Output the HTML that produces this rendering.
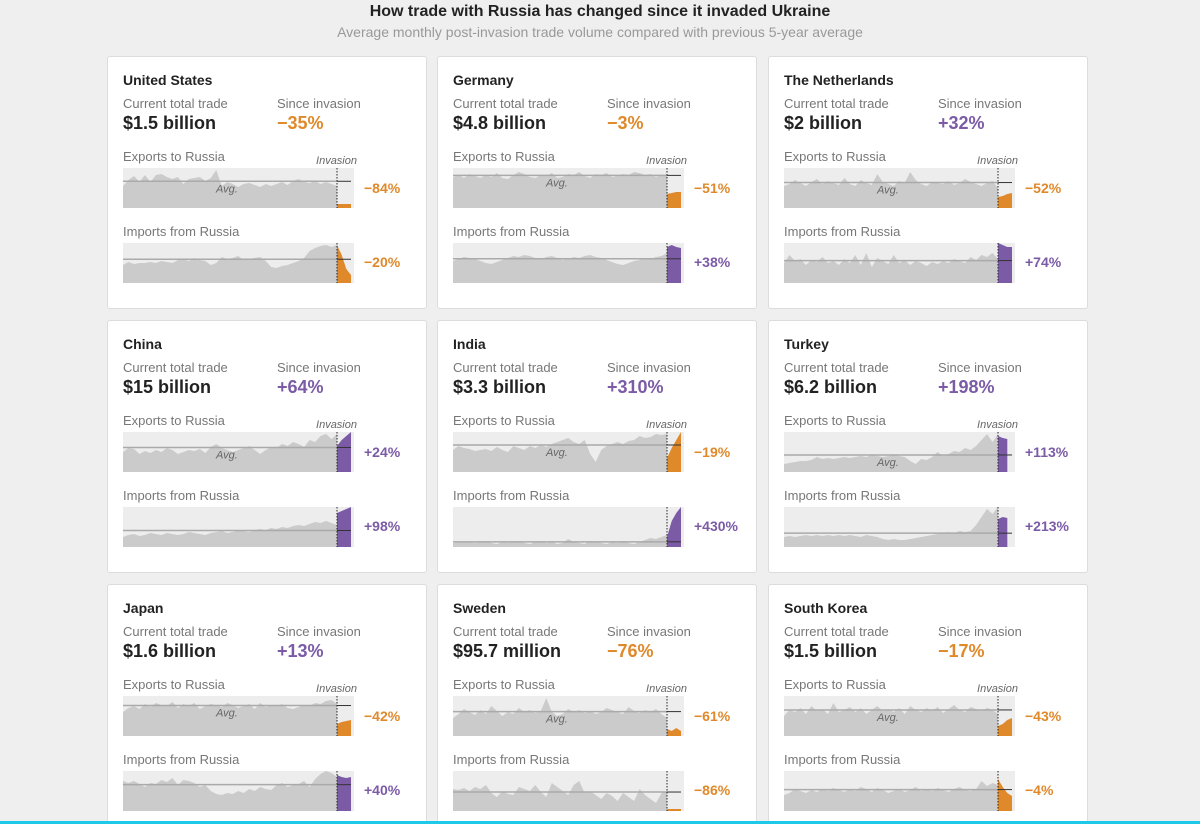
<!DOCTYPE html>
<html style="overflow:hidden;height:824px"><head><meta charset="utf-8">
<style>
body{margin:0;width:1200px;height:824px;background:#efefef;font-family:"Liberation Sans",sans-serif;position:relative;overflow:hidden}
.h{position:absolute;left:0;width:1200px;text-align:center}
.card{position:absolute;width:318px;height:251px;background:#fff;border:1px solid #dcdcdc;border-radius:3px}
.t{position:absolute;white-space:nowrap}
.title{left:15px;top:15px;font-size:14px;font-weight:bold;color:#222}
.lab{font-size:13px;color:#777}
.big{font-size:18px;font-weight:bold;color:#222}
.pct{font-size:14px;font-weight:bold}
svg.sp{position:absolute;left:15px;overflow:visible}
</style></head><body>
<div class="h" style="top:3px;font-size:16px;font-weight:bold;color:#222">How trade with Russia has changed since it invaded Ukraine</div>
<div class="h" style="top:24px;font-size:14px;color:#999">Average monthly post-invasion trade volume compared with previous 5-year average</div>
<div style="position:absolute;left:0;top:821px;width:1200px;height:3px;background:#1ec8e8;z-index:10"></div>
<script>
const countries=["United States","Germany","The Netherlands","China","India","Turkey","Japan","Sweden","South Korea"];
const totals=["$1.5 billion","$4.8 billion","$2 billion","$15 billion","$3.3 billion","$6.2 billion","$1.6 billion","$95.7 million","$1.5 billion"];
const sinceInv=["−35%","−3%","+32%","+64%","+310%","+198%","+13%","−76%","−17%"];
const expPct=["−84%","−51%","−52%","+24%","−19%","+113%","−42%","−61%","−43%"];
const impPct=["−20%","+38%","+74%","+98%","+430%","+213%","+40%","−86%","−4%"];
const expPre=[
[22,28,32,26,33,26,33,34,31,29,31,24,29,30,31,27,30,38,22,26,24,21,24,25,23,21,24,22,24,26,23,27,29,26,25,27,24,26,24,22],
[31,33,30,34,32,30,33,31,35,30,29,33,36,34,31,30,33,32,35,30,31,34,33,36,32,30,34,33,35,31,32,34,33,36,35,33,34,31,33,32],
[22,24,28,25,22,26,29,24,27,25,23,30,24,22,28,25,23,34,26,24,22,27,25,36,28,24,22,26,25,24,27,23,25,29,26,24,22,25,27,20],
[20,24,23,18,21,19,22,20,24,22,18,20,22,21,23,19,25,28,24,22,20,22,24,26,22,18,22,25,24,28,26,30,28,25,32,30,36,38,33,38],
[22,26,24,23,21,22,23,21,25,22,20,26,24,22,26,24,27,25,28,30,32,34,30,28,32,18,10,22,26,28,30,28,31,32,36,34,35,38,37,38],
[8,9,10,11,11,12,15,13,14,13,14,15,14,15,16,15,17,16,15,16,17,16,15,11,8,13,12,15,20,16,18,21,20,24,22,26,32,38,30,38],
[24,28,30,27,32,29,33,31,30,34,28,32,30,33,27,30,32,31,29,33,31,28,30,32,27,33,29,31,30,32,28,27,29,31,30,33,32,35,36,32],
[18,22,27,24,21,26,22,30,25,20,24,22,28,24,26,23,25,38,24,20,22,27,24,26,23,25,22,24,28,26,24,22,29,25,23,26,24,27,22,18],
[20,26,24,28,22,30,25,27,22,33,24,26,29,24,28,22,26,30,25,27,24,28,22,30,26,24,28,25,29,23,27,31,26,24,29,27,25,28,26,22]];
const expPost=[[4,4,4,4],[14,15,16,16],[11,12,14,15],[26,32,36,40],[14,24,32,40],[36,34,33],[12,14,15,16],[7,5,8,5],[10,12,16,18]];
const impPre=[
[18,21,19,20,20,21,20,22,21,20,23,24,22,25,23,22,18,20,26,24,25,27,23,24,25,26,22,16,15,17,18,20,22,25,32,35,37,38,36,38],
[22,24,26,25,24,22,20,19,21,23,25,27,26,28,27,25,24,26,27,25,23,24,26,25,27,28,26,25,23,21,19,18,20,22,23,25,24,26,27,30],
[20,28,22,24,18,23,21,26,20,22,18,24,20,28,18,30,16,25,22,19,28,20,23,18,22,20,17,21,19,22,20,24,22,20,26,23,28,26,30,24],
[10,12,13,11,12,14,13,12,14,13,12,13,15,14,13,12,14,15,16,14,15,17,16,15,17,18,17,19,18,20,19,21,22,21,23,25,24,26,24,22],
[4,5,6,5,4,5,6,4,3,5,4,6,5,4,3,5,6,4,5,3,4,8,5,4,3,6,5,4,3,5,4,6,4,3,5,7,9,8,10,12],
[10,11,10,11,12,11,12,11,12,11,12,11,12,11,10,12,11,10,8,7,8,7,7,8,9,10,11,12,13,14,15,14,16,15,16,22,30,38,33,40],
[30,28,30,27,24,28,27,31,29,33,26,31,30,28,24,26,20,17,16,18,17,20,18,22,20,24,22,21,26,28,24,26,27,30,24,32,37,40,38,34],
[22,21,23,20,24,22,26,18,14,20,17,16,24,22,20,26,19,14,28,24,20,16,26,30,18,20,16,12,18,15,10,18,14,10,22,16,12,8,18,20],
[16,18,22,20,18,21,19,22,20,23,21,19,22,20,24,22,19,23,21,18,20,22,19,21,24,20,22,20,23,21,19,22,24,21,20,22,30,25,28,26]];
const impPost=[[38,28,14,8],[36,38,36,35],[40,38,36,36],[34,36,38,40],[10,26,34,40],[28,30,29],[36,34,33,34],[2,2,2,2],[32,24,18,15]];

const W=231,H=40,INV=214,DOMAIN=40,STEP=4.67;
function xPre(i,n){return i*INV/(n-1);}
function xPost(i){return INV+i*STEP;}
function yS(v){return H-v/DOMAIN*H;}
const NS="http://www.w3.org/2000/svg";
function mk(tag,attrs){const e=document.createElementNS(NS,tag);for(const k in attrs)e.setAttribute(k,attrs[k]);return e;}
function spark(card,top,pre,post,up,avgLab,invLab){
  const s=mk("svg",{width:W,height:H,class:"sp"});
  s.style.top=top+"px";
  
  
  s.appendChild(mk("rect",{x:0,y:0,width:W,height:H,fill:"#ededed"}));
  let d="M0,"+H;pre.forEach((v,i)=>{d+=" L"+xPre(i,pre.length).toFixed(1)+","+yS(v).toFixed(1);});d+=" L"+INV+","+H+"Z";
  const a=mk("path",{d:d,fill:"#cbcbcb"});
  
  
  s.appendChild(a);
  const avg=pre.reduce((p,c)=>p+c,0)/pre.length;
  s.appendChild(mk("line",{x1:0,x2:INV,y1:yS(avg),y2:yS(avg),stroke:"#aaa","stroke-width":1.5}));
  const col=up?"#7b5ba6":"#e0892b";
  let d2="M"+INV+","+H;post.forEach((v,i)=>{d2+=" L"+xPost(i).toFixed(1)+","+yS(v).toFixed(1);});d2+=" L"+xPost(post.length-1)+","+H+"Z";
  const b=mk("path",{d:d2,fill:col});
  
  
  s.appendChild(b);
  s.appendChild(mk("line",{x1:INV,x2:INV+14,y1:yS(avg),y2:yS(avg),stroke:"#333","stroke-width":1}));
  s.appendChild(mk("line",{x1:INV,x2:INV,y1:0,y2:H,stroke:"#222","stroke-width":1,"stroke-dasharray":"1.5,1.5"}));
  if(avgLab){const t=mk("text",{x:93,y:yS(avg)+(avg>15?11:-4),"font-size":11,"font-style":"italic",fill:"#666","font-family":"Liberation Sans, sans-serif"});t.textContent="Avg.";
  s.appendChild(t);}
  if(invLab){const t=mk("text",{x:234,y:-4,"text-anchor":"end","font-size":11,"font-style":"italic",fill:"#666","font-family":"Liberation Sans, sans-serif"});t.textContent="Invasion";
  s.appendChild(t);}
  card.appendChild(s);
}
function txt(card,cls,l,t,str,name,color){const e=document.createElement("div");e.className="t "+cls;e.style.left=l+"px";e.style.top=t+"px";if(color)e.style.color=color;e.textContent=str;
  
  
  card.appendChild(e);}
const lefts=[107,437,768],tops=[56,320,584];
countries.forEach((c,k)=>{
  const card=document.createElement("div");card.className="card";
  card.style.left=lefts[k%3]+"px";card.style.top=tops[Math.floor(k/3)]+"px";
  
  
  document.body.appendChild(card);
  const cs=s=>s.startsWith("+")?"#7b5ba6":"#e0892b";
  txt(card,"title",15,15,c,"country-name");
  txt(card,"lab",15,39,"Current total trade","total-trade-label");
  txt(card,"big",15,56,totals[k],"total-trade-value");
  txt(card,"lab",169,39,"Since invasion","since-invasion-label");
  txt(card,"big",169,56,sinceInv[k],"since-invasion-value",cs(sinceInv[k]));
  txt(card,"lab",15,92,"Exports to Russia","exports-label");
  spark(card,111,expPre[k],expPost[k],expPct[k].startsWith("+"),true,true);
  txt(card,"pct",256,123,expPct[k],"exports-change",cs(expPct[k]));
  txt(card,"lab",15,167,"Imports from Russia","imports-label");
  spark(card,186,impPre[k],impPost[k],impPct[k].startsWith("+"),false,false);
  txt(card,"pct",256,197,impPct[k],"imports-change",cs(impPct[k]));
});
</script>
</body></html>
